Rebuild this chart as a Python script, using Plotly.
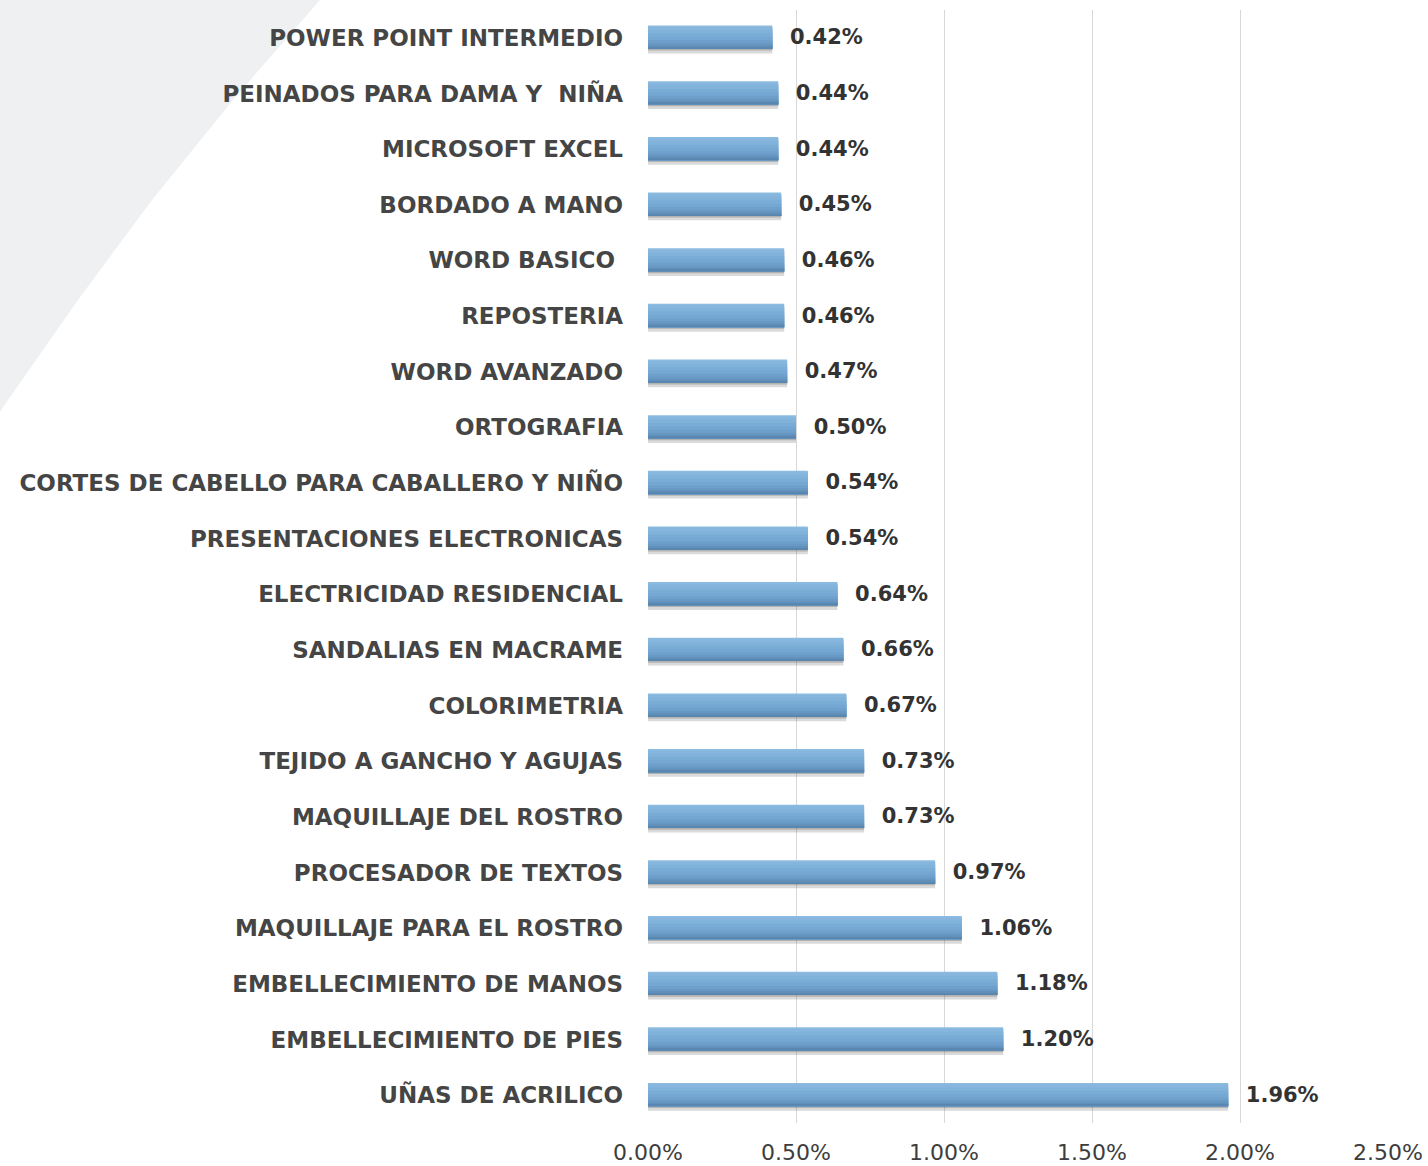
import plotly.graph_objects as go

# Course names, top to bottom
cursos = [
    "POWER POINT INTERMEDIO",
    "PEINADOS PARA DAMA Y  NIÑA",
    "MICROSOFT EXCEL",
    "BORDADO A MANO",
    "WORD BASICO ",
    "REPOSTERIA",
    "WORD AVANZADO",
    "ORTOGRAFIA",
    "CORTES DE CABELLO PARA CABALLERO Y NIÑO",
    "PRESENTACIONES ELECTRONICAS",
    "ELECTRICIDAD RESIDENCIAL",
    "SANDALIAS EN MACRAME",
    "COLORIMETRIA",
    "TEJIDO A GANCHO Y AGUJAS",
    "MAQUILLAJE DEL ROSTRO",
    "PROCESADOR DE TEXTOS",
    "MAQUILLAJE PARA EL ROSTRO",
    "EMBELLECIMIENTO DE MANOS",
    "EMBELLECIMIENTO DE PIES",
    "UÑAS DE ACRILICO",
]

# Share of enrolment (%)
porcentajes = [0.42, 0.44, 0.44, 0.45, 0.46, 0.46, 0.47, 0.50, 0.54, 0.54,
               0.64, 0.66, 0.67, 0.73, 0.73, 0.97, 1.06, 1.18, 1.20, 1.96]

x_ticks = [0.0, 0.5, 1.0, 1.5, 2.0, 2.5]
x_tick_labels = [f"{v:.2f}%" for v in x_ticks]

FONT = "DejaVu Sans"
W, H = 1428, 1166
ML, MR, MT, MB = 648, 40, 10, 43

fig = go.Figure()

# soft drop shadow under each bar
fig.add_trace(go.Bar(
    x=porcentajes, y=cursos, orientation="h",
    width=0.44, offset=-0.16,
    marker=dict(color="rgba(70,70,70,0.20)", line_width=0),
    hoverinfo="skip", showlegend=False,
))
fig.add_trace(go.Bar(
    x=porcentajes, y=cursos, orientation="h",
    width=0.42, offset=-0.19,
    marker=dict(color="rgba(60,60,60,0.25)", line_width=0),
    hoverinfo="skip", showlegend=False,
))

# base bar carrying the value labels
fig.add_trace(go.Bar(
    x=porcentajes, y=cursos, orientation="h",
    width=0.42, offset=-0.22,
    marker=dict(color="#8cbbe0", line_width=0),
    text=porcentajes,
    texttemplate="\u00a0\u00a0%{x:.2f}%",
    textposition="outside",
    constraintext="none",
    cliponaxis=False,
    textfont=dict(family=FONT, size=21, color="#333333", weight="bold"),
    showlegend=False,
))

# shading: each layer starts lower and runs to the bar's bottom edge
bar_bottom = 0.20
shade_steps = [
    (-0.19, "#86b6dd"),
    (-0.14, "#80b2da"),
    (-0.08, "#7aadd6"),
    (-0.02, "#74a7d1"),
    (0.04, "#6ea0cb"),
    (0.09, "#6899c4"),
    (0.13, "#6190bb"),
    (0.17, "#5a87b0"),
]
for off, col in shade_steps:
    fig.add_trace(go.Bar(
        x=porcentajes, y=cursos, orientation="h",
        width=bar_bottom - off, offset=off,
        marker=dict(color=col, line_width=0),
        hoverinfo="skip", showlegend=False,
    ))

# pale background swoosh in the upper-left corner
pts = [(0, 0), (320, 0), (233, 100), (152, 200), (78, 300), (8, 400), (0, 412)]
pw, ph = W - ML - MR, H - MT - MB
path = ""
for i, (px, py) in enumerate(pts):
    fx = (px - ML) / pw
    fy = (H - MB - py) / ph
    path += ("M" if i == 0 else "L") + f"{fx:.5f},{fy:.5f} "
path += "Z"
fig.add_shape(type="path", path=path, xref="paper", yref="paper",
              fillcolor="#eef0f2", line_width=0, layer="below")

fig.update_layout(
    width=W, height=H,
    margin=dict(l=ML, r=MR, t=MT, b=MB, autoexpand=False),
    paper_bgcolor="white", plot_bgcolor="rgba(0,0,0,0)",
    barmode="overlay",
    font=dict(family=FONT),
)

fig.update_xaxes(
    range=[0, 2.5],
    tickmode="array", tickvals=x_ticks, ticktext=x_tick_labels,
    showgrid=True, gridcolor="#d8d8d8", gridwidth=1.2,
    zeroline=False, showline=False, automargin=False,
    ticks="", ticklabelstandoff=14,
    tickfont=dict(family=FONT, size=22, color="#3d3d3d"),
)

fig.update_yaxes(
    categoryorder="array", categoryarray=cursos,
    range=[len(cursos) - 0.5, -0.5],
    showgrid=False, zeroline=False, showline=False, automargin=False,
    ticks="", ticklabelstandoff=24,
    tickfont=dict(family=FONT, size=23, color="#454545", weight="bold"),
)

fig.write_html("out.html")
